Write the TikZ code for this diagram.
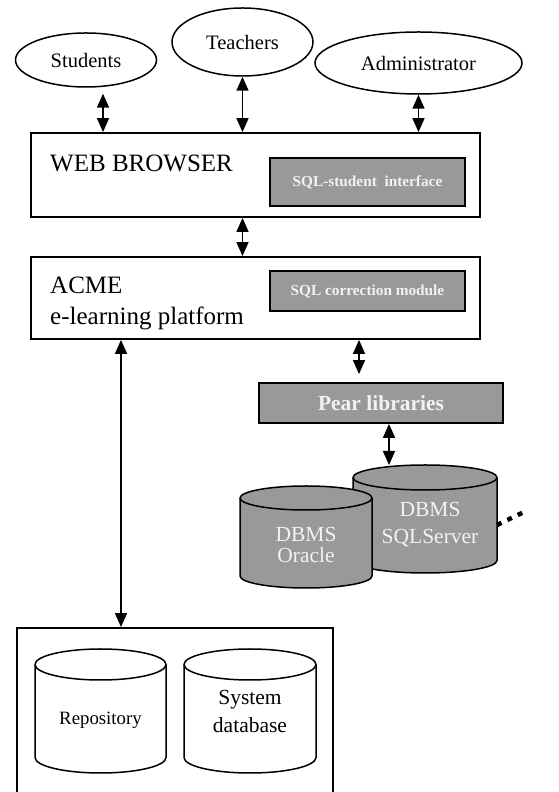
\documentclass[tikz,border=0pt]{standalone}
\usepackage{fontspec}
\setmainfont{Liberation Serif}
\usetikzlibrary{shapes.geometric,arrows.meta}
\definecolor{boxgray}{RGB}{153,153,153}
\definecolor{labelgray}{RGB}{242,242,242}

% database drum: #1 = x of centre, #2 = y of top, #3 = width, #4 = height, #5 = half height of the cap, #6 = fill
\newcommand{\drum}[6]{%
  \filldraw[line width=1.5pt, fill=#6] ({#1-#3/2},{#2-#5}) -- ({#1-#3/2},{#2-#4+#5})
    arc[start angle=180, end angle=360, x radius=#3/2, y radius=#5]
    -- ({#1+#3/2},{#2-#5})
    arc[start angle=0, end angle=180, x radius=#3/2, y radius=#5] -- cycle;
  \draw[line width=1.5pt] ({#1-#3/2},{#2-#5})
    arc[start angle=180, end angle=360, x radius=#3/2, y radius=#5];
}

\begin{document}
\begin{tikzpicture}[x=1pt,y=1pt]
    \useasboundingbox (0,0) rectangle (559,792);
    \clip (0,0) rectangle (559,792);

    % Define styles
    \tikzstyle{actor} = [draw, ellipse, line width=1.5pt, inner sep=0pt, font=\fontsize{20.5}{24}\selectfont]
    \tikzstyle{panel} = [draw, rectangle, line width=1.8pt, inner sep=0pt]
    \tikzstyle{module} = [draw, rectangle, fill=boxgray, line width=1.8pt, inner sep=0pt, text=labelgray, font=\bfseries\fontsize{15.3}{18}\selectfont]
    \tikzstyle{dblabel} = [inner sep=0pt, align=center, font=\fontsize{21.5}{26}\selectfont]
    \tikzstyle{biarrow} = [{Triangle[length=14pt,width=12pt]}-{Triangle[length=14pt,width=12pt]}, line width=1.5pt]
    \tikzstyle{etcdots} = [line width=4.5pt, dash pattern=on 5pt off 6.5pt]

    % Users
    \node[actor, minimum width=141pt, minimum height=54pt] (students) at (86,732) {Students};
    \node[actor, minimum width=141pt, minimum height=68pt] (teachers) at (242.5,750) {Teachers};
    \node[actor, minimum width=207pt, minimum height=62pt] (admin) at (418.5,729) {Administrator};

    % Browser and platform
    \node[panel, minimum width=449pt, minimum height=84pt] (browser) at (255.5,617) {};
    \node[anchor=base west, inner sep=0pt, font=\fontsize{25}{28}\selectfont] (browsertitle) at (50,620) {WEB BROWSER};
    \node[module, minimum width=195pt, minimum height=48pt] (interface) at (367.5,610) {SQL-student\ \ interface};

    \node[panel, minimum width=449pt, minimum height=82pt] (acme) at (255.5,494) {};
    \node[anchor=north west, inner sep=0pt, align=left, font=\fontsize{25}{31}\selectfont] (acmetitle) at (50,515) {ACME\\e-learning platform};
    \node[module, minimum width=195pt, minimum height=40pt] (correction) at (367.5,501) {SQL correction module};

    % Pear and the DBMS
    \node[module, minimum width=244pt, minimum height=40pt, font=\bfseries\fontsize{21.5}{25}\selectfont] (pear) at (381,389) {Pear libraries};
    \drum{425}{327}{144}{108}{12.5}{boxgray}
    \coordinate (sqltop) at (425,327);
    \coordinate (sqlright) at (497,267);
    \coordinate (dotsend) at (526,281);
    \node[dblabel, text=labelgray, font=\fontsize{21.5}{26.5}\selectfont] (sqlserver) at (430,267.5) {DBMS\\SQLServer};
    \drum{306}{306}{132}{102}{12}{boxgray}
    \node[dblabel, text=labelgray, font=\fontsize{21.5}{21}\selectfont] (oracle) at (306,247) {DBMS\\Oracle};

    % Storage
    \node[panel, minimum width=316pt, minimum height=180pt] (storage) at (175,74) {};
    \drum{100.5}{143}{131}{124}{15.5}{white}
    \node[dblabel, font=\fontsize{18.8}{22}\selectfont] (repository) at (100.5,71.2) {Repository};
    \drum{250}{143}{132}{124}{15.5}{white}
    \node[dblabel, font=\fontsize{21.5}{28}\selectfont] (sysdb) at (250,80.3) {System\\database};

    % Edges with arrows
    \draw[biarrow, shorten <=6pt] ([xshift=17pt]students.south) -- ([xshift=17pt]students.south |- browser.north);
    \draw[biarrow] (teachers.south) -- (teachers.south |- browser.north);
    \draw[biarrow] (admin.south) -- (admin.south |- browser.north);
    \draw[biarrow] (browser.south -| teachers.south) -- (acme.north -| teachers.south);
    \draw[biarrow, shorten >=8pt] ([xshift=-22pt]pear.north |- acme.south) -- ([xshift=-22pt]pear.north);
    \draw[biarrow] ([xshift=8pt]pear.south) -- ([xshift=8pt]pear.south |- sqltop);
    \draw[biarrow] ([xshift=-54pt]storage.north |- acme.south) -- ([xshift=-54pt]storage.north);
    \draw[etcdots] (sqlright) -- (dotsend);
\end{tikzpicture}
\end{document}
